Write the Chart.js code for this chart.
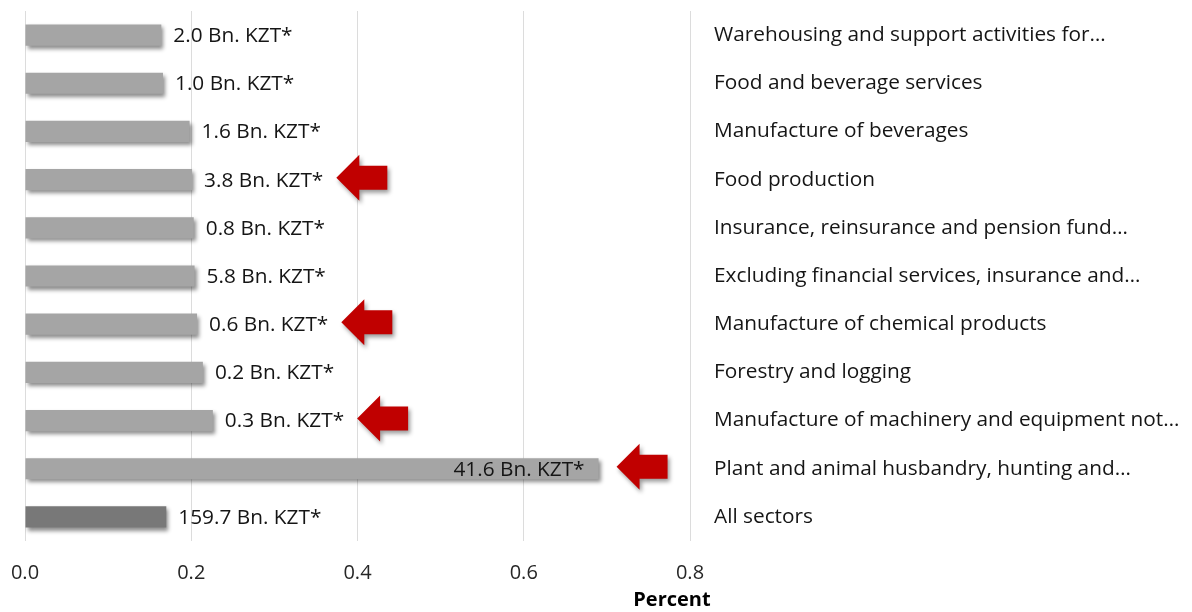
<!DOCTYPE html>
<html>
<head>
<meta charset="utf-8">
<script src="https://cdn.jsdelivr.net/npm/chart.js@4.4.1/dist/chart.umd.min.js"></script>
<style>
  html, body { margin: 0; padding: 0; background: #ffffff; }
  #wrap { width: 1192px; height: 612px; position: relative; }
</style>
</head>
<body>
<div id="wrap"><canvas id="c" width="1192" height="612"></canvas></div>
<script>
// ---- data ----
const categories = [
  "Warehousing and support activities for…",
  "Food and beverage services",
  "Manufacture of beverages",
  "Food production",
  "Insurance, reinsurance and pension fund…",
  "Excluding financial services, insurance and…",
  "Manufacture of chemical products",
  "Forestry and logging",
  "Manufacture of machinery and equipment not…",
  "Plant and animal husbandry, hunting and…",
  "All sectors"
];
const percentValues = [0.164, 0.166, 0.198, 0.201, 0.203, 0.204, 0.207, 0.214, 0.226, 0.690, 0.170];
const amountsBn = [2.0, 1.0, 1.6, 3.8, 0.8, 5.8, 0.6, 0.2, 0.3, 41.6, 159.7];
const highlighted = [false, false, false, true, false, false, true, false, true, true, false];
const isTotal = [false, false, false, false, false, false, false, false, false, false, true];
const xTicks = [0.0, 0.2, 0.4, 0.6, 0.8];
const xAxisTitle = "Percent";
const amountSuffix = " Bn. KZT*";

// ---- styles ----
const FONT = "'Open Sans', 'DejaVu Sans', sans-serif";
const FONT_SIZE = 20;
const LABEL_SIZE = 20.8;
const barColor = "#a5a5a5";
const totalColor = "#787878";
const arrowColor = "#c00000";
const textColor = "#151515";

const barShadow = {
  id: 'barShadow',
  beforeDatasetsDraw(chart) {
    const ctx = chart.ctx;
    ctx.save();
    ctx.shadowColor = 'rgba(0,0,0,0.45)';
    ctx.shadowBlur = 4;
    ctx.shadowOffsetX = 2;
    ctx.shadowOffsetY = 3;
  },
  afterDatasetsDraw(chart) {
    chart.ctx.restore();
  }
};

function drawArrow(ctx, tipX, cy) {
  const headLen = 23, headH = 46, shaftLen = 28, shaftH = 24;
  ctx.save();
  ctx.shadowColor = 'rgba(0,0,0,0.4)';
  ctx.shadowBlur = 4;
  ctx.shadowOffsetX = 2;
  ctx.shadowOffsetY = 3;
  ctx.fillStyle = arrowColor;
  ctx.beginPath();
  ctx.moveTo(tipX, cy);
  ctx.lineTo(tipX + headLen, cy - headH / 2);
  ctx.lineTo(tipX + headLen, cy - shaftH / 2);
  ctx.lineTo(tipX + headLen + shaftLen, cy - shaftH / 2);
  ctx.lineTo(tipX + headLen + shaftLen, cy + shaftH / 2);
  ctx.lineTo(tipX + headLen, cy + shaftH / 2);
  ctx.lineTo(tipX + headLen, cy + headH / 2);
  ctx.closePath();
  ctx.fill();
  ctx.restore();
}

const labelsAndArrows = {
  id: 'labelsAndArrows',
  afterDatasetsDraw(chart) {
    const ctx = chart.ctx;
    const meta = chart.getDatasetMeta(0);
    const xScale = chart.scales.x;
    ctx.save();
    ctx.font = LABEL_SIZE + "px " + FONT;
    ctx.fillStyle = textColor;
    ctx.textBaseline = 'middle';
    meta.data.forEach((bar, i) => {
      const text = amountsBn[i].toFixed(1) + amountSuffix;
      const w = ctx.measureText(text).width;
      const inside = percentValues[i] > (xScale.max - xScale.min) / 2;
      let arrowTip;
      if (inside) {
        ctx.textAlign = 'right';
        ctx.fillText(text, bar.x - 14, bar.y + 1);
        arrowTip = bar.x + 18;
      } else {
        ctx.textAlign = 'left';
        ctx.fillText(text, bar.x + 12, bar.y + 1);
        arrowTip = bar.x + 12 + w + 13;
      }
      if (highlighted[i]) drawArrow(ctx, arrowTip, bar.y - 2);
    });
    // axis title
    ctx.font = "bold " + FONT_SIZE + "px " + FONT;
    ctx.fillStyle = '#000';
    ctx.textAlign = 'center';
    ctx.fillText(xAxisTitle, xScale.getPixelForValue(xTicks[xTicks.length - 1]) - 18, 600);
    ctx.restore();
  }
};

new Chart(document.getElementById('c'), {
  type: 'bar',
  data: {
    labels: categories,
    datasets: [{
      data: percentValues,
      backgroundColor: isTotal.map(t => t ? totalColor : barColor),
      borderWidth: 0,
      categoryPercentage: 1.0,
      barPercentage: 0.44
    }]
  },
  options: {
    indexAxis: 'y',
    responsive: false,
    animation: false,
    events: [],
    layout: { padding: { left: 25, top: 11, right: 0, bottom: 0 } },
    plugins: { legend: { display: false }, tooltip: { enabled: false } },
    scales: {
      x: {
        min: 0, max: 0.8,
        afterBuildTicks(s) { s.ticks = xTicks.map(v => ({ value: v })); },
        afterFit(s) { s.height = 71; s.paddingLeft = 0; s.paddingRight = 0; },
        grid: { color: '#dcdcdc', lineWidth: 1, drawTicks: false },
        border: { display: false },
        ticks: {
          padding: 20,
          maxRotation: 0,
          color: '#262626',
          font: { family: FONT, size: FONT_SIZE },
          callback: v => Number(v).toFixed(1)
        }
      },
      y: {
        position: 'right',
        afterFit(s) { s.width = 502; s.paddingTop = 0; s.paddingBottom = 0; },
        grid: { display: false, drawTicks: false },
        border: { display: false },
        ticks: {
          padding: 24,
          autoSkip: false,
          color: textColor,
          font: { family: FONT, size: LABEL_SIZE }
        }
      }
    }
  },
  plugins: [barShadow, labelsAndArrows]
});
</script>
</body>
</html>
